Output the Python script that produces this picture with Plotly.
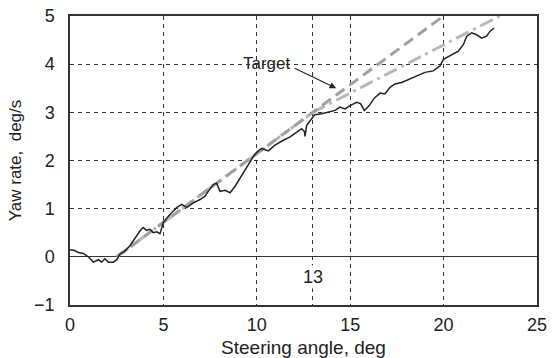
import plotly.graph_objects as go

steer = [0.0, 0.18, 0.45, 0.71, 0.98, 1.25, 1.52, 1.69, 1.87, 2.05, 2.32, 2.5, 2.68, 2.94,
         3.21, 3.48, 3.75, 3.92, 4.1, 4.28, 4.46, 4.64, 4.82, 5.0, 5.35, 5.71, 5.98, 6.25,
         6.6, 6.96, 7.23, 7.4, 7.67, 7.85, 8.03, 8.3, 8.57, 8.83, 9.1, 9.37, 9.64, 9.81,
         9.99, 10.26, 10.62, 10.97, 11.42, 11.78, 12.14, 12.4, 12.55, 12.58, 12.67, 12.93,
         13.1, 13.47, 13.83, 14.19, 14.45, 14.72, 14.99, 15.35, 15.55, 15.76, 16.02, 16.3,
         16.6, 16.86, 17.13, 17.4, 17.76, 18.2, 18.65, 19.0, 19.45, 19.8, 19.99, 20.43,
         20.79, 21.06, 21.24, 21.5, 21.77, 22.04, 22.3, 22.48, 22.7]
yaw = [0.14, 0.14, 0.09, 0.07, 0.0, -0.11, -0.06, -0.11, -0.04, -0.11, -0.11, -0.06, 0.06, 0.12,
       0.23, 0.4, 0.54, 0.61, 0.55, 0.57, 0.5, 0.52, 0.48, 0.72, 0.88, 1.02, 1.09, 1.02,
       1.12, 1.19, 1.26, 1.36, 1.5, 1.53, 1.36, 1.38, 1.33, 1.46, 1.63, 1.81, 1.96, 2.08,
       2.17, 2.25, 2.2, 2.32, 2.42, 2.49, 2.59, 2.66, 2.6, 2.5, 2.73, 2.87,
       2.95, 2.97, 3.0, 3.04, 3.11, 3.07, 3.14, 3.21, 3.18, 3.04, 3.14, 3.3,
       3.4, 3.38, 3.52, 3.59, 3.62, 3.69, 3.76, 3.83, 3.86, 3.96, 4.1, 4.2,
       4.27, 4.41, 4.58, 4.65, 4.61, 4.54, 4.58, 4.68, 4.75]

# Target line
target_x = [2.5, 20.0]
target_y = [0.0, 5.0]

# Fitted line (bends at 13 deg)
fit_x = [2.5, 13.0, 23.0]
fit_y = [0.0, 3.0, 5.0]

x_ticks = [0, 5, 10, 13, 15, 20, 25]
x_ticktext = ["0", "5", "10", "", "15", "20", "25"]
y_ticks = [-1, 0, 1, 2, 3, 4, 5]

FONT = "Liberation Sans, Arial, sans-serif"

fig = go.Figure()
fig.add_trace(go.Scatter(x=fit_x, y=fit_y, mode="lines",
                         line=dict(color="#b8b8b8", width=3, dash="14px,5px,3px,5px")))
fig.add_trace(go.Scatter(x=target_x, y=target_y, mode="lines",
                         line=dict(color="#a0a0a0", width=3, dash="11px,6px")))
fig.add_trace(go.Scatter(x=steer, y=yaw, mode="lines",
                         line=dict(color="#222222", width=1.5)))

fig.add_annotation(x=14.25, y=3.5, ax=11.95, ay=3.93, axref="x", ayref="y",
                   text="\u00a0", font=dict(size=1), showarrow=True, arrowhead=2,
                   arrowsize=1.1, arrowwidth=1.2, arrowcolor="#222")
fig.add_annotation(x=11.9, y=4.02, text="Target", showarrow=False,
                   xanchor="right", yanchor="middle", xshift=1,
                   font=dict(family=FONT, size=17, color="#222"))
fig.add_annotation(x=13, y=-0.42, text="13", showarrow=False,
                   font=dict(family=FONT, size=18, color="#222"), bgcolor="white")

fig.update_layout(
    width=552, height=358,
    margin=dict(l=70, r=15, t=16, b=53),
    paper_bgcolor="white", plot_bgcolor="white",
    showlegend=False,
    font=dict(family=FONT, size=18, color="#222"),
)
fig.update_xaxes(range=[0, 25], tickvals=x_ticks, ticktext=x_ticktext, automargin=False,
                 showgrid=True, gridcolor="#333", gridwidth=1, griddash="4px,4px",
                 showline=True, mirror=True, linecolor="#333", linewidth=1.5,
                 zeroline=False, ticks="", ticklabelstandoff=3,
                 title=dict(text="Steering angle, deg", font=dict(size=19), standoff=8))
fig.update_yaxes(range=[-1, 5], tickvals=y_ticks, automargin=False,
                 showgrid=True, gridcolor="#333", gridwidth=1, griddash="4px,4px",
                 showline=True, mirror=True, linecolor="#333", linewidth=1.5,
                 zeroline=True, zerolinecolor="#333", zerolinewidth=1.2,
                 ticks="", ticklabelstandoff=10,
                 title=dict(text="Yaw rate,  deg/s", font=dict(size=17), standoff=8))

fig.write_html("out.html")
